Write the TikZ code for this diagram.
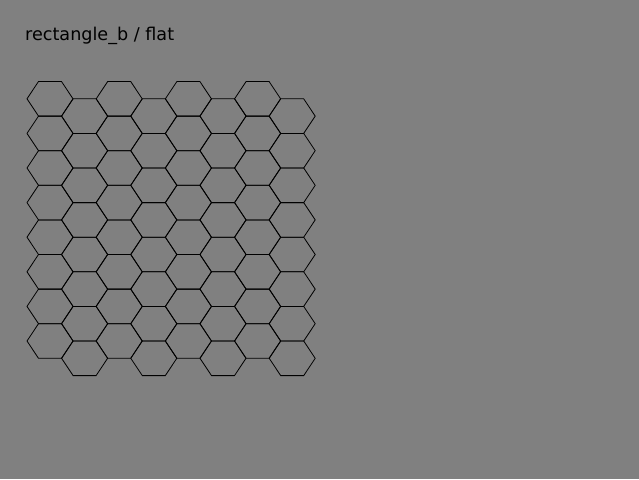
\documentclass[tikz,border=0pt]{standalone}
\usepackage{fontspec}
\setmainfont{DejaVu Sans}
\tikzset{
  hexcell/.style={draw=black,line width=0.8pt,line join=miter},
  caption/.style={anchor=base west,inner sep=0pt,font=\fontsize{17.6}{21}\selectfont}
}
\begin{document}
\begin{tikzpicture}[x=1pt,y=-1pt]
  \fill[gray] (0,0) rectangle (639,479);
  \node[caption] (title) at (25,40) {rectangle\_b / flat};
  % flat-topped cells, odd columns pushed half a row down
  \foreach \i in {0,...,7} {
    \foreach \j in {0,...,7} {
      \pgfmathsetmacro{\cx}{50+34.6*\i}
      \pgfmathsetmacro{\cy}{98.8+34.6*\j+17.3*mod(\i,2)}
      \draw[hexcell] (\cx-23,\cy) -- (\cx-11.5,\cy-17.3) -- (\cx+11.5,\cy-17.3)
        -- (\cx+23,\cy) -- (\cx+11.5,\cy+17.3) -- (\cx-11.5,\cy+17.3) -- cycle;
    }
  }
\end{tikzpicture}
\end{document}
